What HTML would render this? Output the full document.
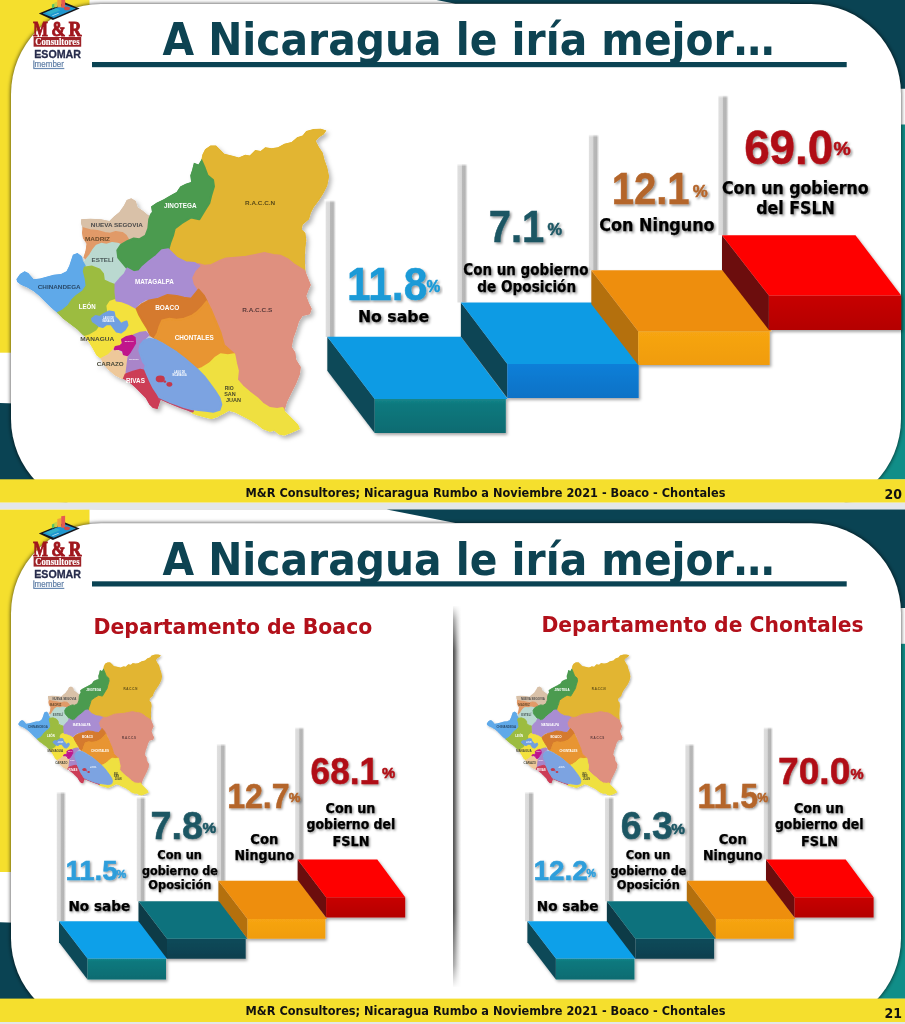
<!DOCTYPE html>
<html lang="es"><head><meta charset="utf-8"><title>A Nicaragua le iría mejor…</title>
<style>html,body{margin:0;padding:0;background:#fff}body{width:905px;height:1024px;overflow:hidden}svg{display:block}text{white-space:pre}</style></head><body>
<svg width="905" height="1024" viewBox="0 0 905 1024">
<defs>
<clipPath id="mapclip"><polygon points="16.38,279.36 20.03,273.9 24.59,271.16 28.23,272.98 33.7,279.36 40.08,278.45 46.46,276.63 53.76,274.81 61.05,273.9 66.52,271.16 69.25,265.69 71.08,260.22 72.9,254.75 77.46,252.93 81.1,255.66 82.93,257.49 83.84,256.57 85.66,250.19 86.57,243.81 82.93,238.34 82.02,232.87 82.56,228.31 81.1,223.76 81.1,219.2 90.22,218.65 101.16,219.2 109.36,221.02 113.92,216.46 119.39,211.91 123.95,205.52 126.69,200.06 131.24,198.23 135.8,200.97 137.62,207.35 143.09,210.99 148.56,215.55 149.23,214.18 151.96,211.99 151.05,206.52 156.52,202.87 163.81,199.23 170.19,195.58 176.57,191.93 180.22,186.46 185.69,183.73 191.16,181.91 190.25,175.52 192.07,170.06 193.9,162.76 198.45,164.59 201.19,160.03 202.35,154.64 205.08,149.17 210.55,145.52 216.02,145.52 220.58,150.08 224.23,153.73 231.52,155.55 238.81,157.38 245.19,154.64 249.75,155.55 255.22,150.08 260.69,150.99 265.25,147.35 271.63,148.26 278.01,147.35 284.39,143.7 291.69,141.88 297.15,137.32 302.62,135.5 306.27,130.94 313.56,129.12 320.86,128.75 326.33,130.57 323.59,134.59 319.03,137.32 315.75,140.97 319.03,147.35 322.68,152.82 324.5,160.11 327.24,167.4 329.06,176.52 327.24,185.64 323.59,192.93 319.03,200.22 313.56,207.51 310.83,212.98 309.01,219.36 302.62,224.83 301.71,229.39 305.36,233.04 306.27,240.33 305.36,247.62 304.81,258.56 305.36,271.33 310.83,285 309.01,288.65 306.27,295.94 309.01,303.23 311.74,308.7 309.92,314.17 302.62,315.99 298.98,321.46 296.24,330.58 293.51,337.87 291.69,346.99 295.33,352.46 296.24,359.75 300.8,367.04 299.89,374.34 296.24,383.45 291.69,392.57 287.13,401.69 284.39,410.8 291.69,418.09 298.07,424.48 299.89,429.03 291.69,432.68 284.39,435.41 278.92,434.5 274.36,430.86 269.81,431.77 262.51,429.03 257.04,424.48 249.75,419.92 242.46,416.27 235.17,412.62 228.78,410.8 224.23,413.54 216.93,417.18 211.46,419.01 204.17,417.18 196.88,415.36 192.32,413.54 187.62,410.8 180.33,408.25 173.04,405.33 166.66,402.6 160.64,399.86 159.36,403.51 157.54,408.98 152.98,408.07 149.34,404.42 145.69,398.04 140.22,392.57 134.75,387.1 129.28,382.54 123.81,378.9 121.99,378.9 114.7,375.25 108.31,369.78 102.85,363.4 101.02,358.84 96.46,355.19 91.91,346.99 87.35,339.7 85.16,336.6 82.93,334.97 77.46,329.5 70.17,324.03 62.87,318.56 57.4,313.09 51.02,307.62 44.64,301.24 39.17,295.77 33.7,291.22 27.32,287.57 20.94,284.83 17.29,282.1"/></clipPath>
<filter id="cardsh" x="-5%" y="-5%" width="110%" height="110%"><feGaussianBlur stdDeviation="2.1"/><feColorMatrix values="0 0 0 0 0  0 0 0 0 0  0 0 0 0 0  0 0 0 .8 0"/></filter>
<filter id="mapsh" x="-10%" y="-10%" width="125%" height="125%"><feDropShadow dx="2.5" dy="3" stdDeviation="2.2" flood-color="#000" flood-opacity=".28"/></filter>
<filter id="stepsh" x="-10%" y="-10%" width="125%" height="125%"><feDropShadow dx="1.5" dy="2" stdDeviation="1.5" flood-color="#000" flood-opacity=".35"/></filter>
<filter id="s1" x="-10%" y="-20%" width="125%" height="150%"><feDropShadow dx="1.6" dy="1.6" stdDeviation="1.1" flood-color="#000" flood-opacity=".42"/></filter>
<filter id="s2" x="-10%" y="-20%" width="125%" height="150%"><feDropShadow dx="1.2" dy="1.2" stdDeviation=".9" flood-color="#000" flood-opacity=".42"/></filter>
<linearGradient id="barg" x1="0" x2="1" y1="0" y2="0"><stop offset="0" stop-color="#f2f2f2"/><stop offset=".05" stop-color="#dfdfdf"/><stop offset=".40" stop-color="#d8d8d8"/><stop offset=".48" stop-color="#b8b8b8"/><stop offset=".74" stop-color="#b4b4b4"/><stop offset=".84" stop-color="#d4d4d4"/><stop offset="1" stop-color="#fff"/></linearGradient>
<linearGradient id="fadew" x1="0" x2="0" y1="0" y2="1"><stop offset="0" stop-color="#fff"/><stop offset=".3" stop-color="#fff" stop-opacity=".8"/><stop offset="1" stop-color="#fff" stop-opacity="0"/></linearGradient>
<linearGradient id="tealf" x1="0" x2="0" y1="0" y2="1"><stop offset="0" stop-color="#13868a"/><stop offset=".15" stop-color="#0f797e"/><stop offset="1" stop-color="#0b6b71"/></linearGradient>
<linearGradient id="bluef" x1="0" x2="0" y1="0" y2="1"><stop offset="0" stop-color="#0b7fd8"/><stop offset="1" stop-color="#0a72c6"/></linearGradient>
<linearGradient id="oraf" x1="0" x2="0" y1="0" y2="1"><stop offset="0" stop-color="#f7a512"/><stop offset="1" stop-color="#f09c0c"/></linearGradient>
<linearGradient id="redf" x1="0" x2="0" y1="0" y2="1"><stop offset="0" stop-color="#c80000"/><stop offset="1" stop-color="#b40000"/></linearGradient>
<linearGradient id="darkf" x1="0" x2="0" y1="0" y2="1"><stop offset="0" stop-color="#0d4a5a"/><stop offset="1" stop-color="#0a3f4e"/></linearGradient>
<linearGradient id="divh" x1="0" x2="1" y1="0" y2="0"><stop offset="0" stop-color="#4e4e4e"/><stop offset=".22" stop-color="#6e6e6e"/><stop offset=".5" stop-color="#b4b4b4"/><stop offset=".8" stop-color="#ececec"/><stop offset="1" stop-color="#fff"/></linearGradient>
<linearGradient id="divv" x1="0" x2="0" y1="0" y2="1"><stop offset="0" stop-color="#fff"/><stop offset=".04" stop-color="#fff" stop-opacity=".5"/><stop offset=".12" stop-color="#fff" stop-opacity="0"/><stop offset=".8" stop-color="#fff" stop-opacity="0"/><stop offset=".94" stop-color="#fff" stop-opacity=".5"/><stop offset="1" stop-color="#fff"/></linearGradient>
</defs>
<rect width="905" height="1024" fill="#fff"/>
<g>
<rect x="0" y="0" width="89.5" height="352.7" fill="#f5df2d"/>
<path d="M0 403 Q30 403.6 62 407.5 L62 480 L0 480Z" fill="#0a4353"/>
<polygon points="386.7,-9.8 905,-9.8 905,88.8 790,88.8 790,3.7 455.4,3.7" fill="#0a4353"/>
<rect x="780" y="124.5" width="125" height="355" fill="#108e88"/>
<rect x="11" y="4" width="890" height="505" rx="90" ry="90" fill="#fff" filter="url(#cardsh)"/>
<rect x="11" y="4" width="890" height="505" rx="90" ry="90" fill="#fff"/>
<rect x="0" y="479.3" width="905" height="23.4" fill="#f5df2d"/>
<rect x="0" y="502.7" width="905" height="7" fill="#e3e6e9"/>
<rect x="92" y="62" width="754.7" height="5.2" fill="#0a4353"/>
</g>
<g>
<rect x="0" y="509.6" width="905" height="39.7" fill="#fff"/>
<rect x="0" y="509.6" width="89.5" height="362.4" fill="#f5df2d"/>
<path d="M0 922.3 Q30 922.9 62 926.8 L62 999.3 L0 999.3Z" fill="#0a4353"/>
<polygon points="386.7,509.5 905,509.5 905,608.1 790,608.1 790,523 455.4,523" fill="#0a4353"/>
<rect x="780" y="643.8" width="125" height="355" fill="#108e88"/>
<rect x="11" y="523.3" width="890" height="505" rx="90" ry="90" fill="#fff" filter="url(#cardsh)"/>
<rect x="11" y="523.3" width="890" height="505" rx="90" ry="90" fill="#fff"/>
<rect x="0" y="998.6" width="905" height="23.4" fill="#f5df2d"/>
<rect x="0" y="1022" width="905" height="7" fill="#e3e6e9"/>
<rect x="92" y="581.3" width="754.7" height="5.2" fill="#0a4353"/>
</g>
<g transform="translate(0,0)">
<polygon points="38.8,13.6 65.1,2.6 79.7,8.5 52.9,20" fill="#16161c"/>
<polygon points="42.6,13.4 64.8,4.4 76,8.6 53.8,17.9" fill="#1f97cf"/>
<polygon points="45.5,12.6 56,8.3 60.5,10.2 50,14.6" fill="#35b6c8" opacity=".8"/>
<polygon points="51.9,8.5 51.9,4.6 54.6,3.4 54.6,7.6" fill="#58c06a"/>
<polygon points="54.6,7.6 54.6,2.6 57.3,1.6 57.3,7" fill="#c8d048"/>
<polygon points="57.3,7.2 57.3,-0.8 61.2,-2 61.2,7.2" fill="#f0a23c"/>
<polygon points="61.2,7.8 61.2,-3.6 65.1,-4.2 65.1,7.8" fill="#e65a50"/>
<ellipse cx="67" cy="8.4" rx="3" ry="1.9" fill="#d04848"/>
<polygon points="52,15.6 58.4,13 59,13.5 52.6,16.1" fill="#bfe6f4"/>
<text class="t" x="33.2" y="36" textLength="14.6" font-family='"Liberation Serif",serif' font-weight="bold" font-size="21" fill="#a0161d" stroke="#a0161d" stroke-width="1" lengthAdjust="spacingAndGlyphs">M</text>
<text class="t" x="51.4" y="36" textLength="14" font-family='"Liberation Serif",serif' font-weight="bold" font-size="21" fill="#a0161d" stroke="#a0161d" stroke-width="1" lengthAdjust="spacingAndGlyphs">&amp;</text>
<text class="t" x="68.8" y="36" textLength="12.6" font-family='"Liberation Serif",serif' font-weight="bold" font-size="21" fill="#a0161d" stroke="#a0161d" stroke-width="1" lengthAdjust="spacingAndGlyphs">R</text>
<rect x="33.6" y="37" width="47.6" height="9.7" fill="#9e2227"/>
<text class="t" x="57.4" y="44.8" text-anchor="middle" textLength="44.4" lengthAdjust="spacingAndGlyphs" font-family='"Liberation Serif",serif' font-weight="bold" font-size="9.8" fill="#fff" stroke="#fff" stroke-width=".15">Consultores</text>
<text class="t" x="57.6" y="58" text-anchor="middle" textLength="46.8" lengthAdjust="spacingAndGlyphs" font-family='"Liberation Sans",sans-serif' font-weight="bold" font-size="11.2" fill="#272c4c" stroke="#272c4c" stroke-width=".3">ESOMAR</text>
<text class="t" x="34.6" y="66.8" textLength="29.4" lengthAdjust="spacingAndGlyphs" font-family='"Liberation Sans",sans-serif' font-size="9.4" fill="#5b7ba4" stroke="#5b7ba4" stroke-width=".2">member</text>
<rect x="33.3" y="60.4" width="1.1" height="7.8" fill="#5b7ba4"/>
<rect x="33.3" y="67.9" width="31" height="1.2" fill="#6b8bb4"/>
</g>
<g transform="translate(0,519.9)">
<polygon points="38.8,13.6 65.1,2.6 79.7,8.5 52.9,20" fill="#16161c"/>
<polygon points="42.6,13.4 64.8,4.4 76,8.6 53.8,17.9" fill="#1f97cf"/>
<polygon points="45.5,12.6 56,8.3 60.5,10.2 50,14.6" fill="#35b6c8" opacity=".8"/>
<polygon points="51.9,8.5 51.9,4.6 54.6,3.4 54.6,7.6" fill="#58c06a"/>
<polygon points="54.6,7.6 54.6,2.6 57.3,1.6 57.3,7" fill="#c8d048"/>
<polygon points="57.3,7.2 57.3,-0.8 61.2,-2 61.2,7.2" fill="#f0a23c"/>
<polygon points="61.2,7.8 61.2,-3.6 65.1,-4.2 65.1,7.8" fill="#e65a50"/>
<ellipse cx="67" cy="8.4" rx="3" ry="1.9" fill="#d04848"/>
<polygon points="52,15.6 58.4,13 59,13.5 52.6,16.1" fill="#bfe6f4"/>
<text class="t" x="33.2" y="36" textLength="14.6" font-family='"Liberation Serif",serif' font-weight="bold" font-size="21" fill="#a0161d" stroke="#a0161d" stroke-width="1" lengthAdjust="spacingAndGlyphs">M</text>
<text class="t" x="51.4" y="36" textLength="14" font-family='"Liberation Serif",serif' font-weight="bold" font-size="21" fill="#a0161d" stroke="#a0161d" stroke-width="1" lengthAdjust="spacingAndGlyphs">&amp;</text>
<text class="t" x="68.8" y="36" textLength="12.6" font-family='"Liberation Serif",serif' font-weight="bold" font-size="21" fill="#a0161d" stroke="#a0161d" stroke-width="1" lengthAdjust="spacingAndGlyphs">R</text>
<rect x="33.6" y="37" width="47.6" height="9.7" fill="#9e2227"/>
<text class="t" x="57.4" y="44.8" text-anchor="middle" textLength="44.4" lengthAdjust="spacingAndGlyphs" font-family='"Liberation Serif",serif' font-weight="bold" font-size="9.8" fill="#fff" stroke="#fff" stroke-width=".15">Consultores</text>
<text class="t" x="57.6" y="58" text-anchor="middle" textLength="46.8" lengthAdjust="spacingAndGlyphs" font-family='"Liberation Sans",sans-serif' font-weight="bold" font-size="11.2" fill="#272c4c" stroke="#272c4c" stroke-width=".3">ESOMAR</text>
<text class="t" x="34.6" y="66.8" textLength="29.4" lengthAdjust="spacingAndGlyphs" font-family='"Liberation Sans",sans-serif' font-size="9.4" fill="#5b7ba4" stroke="#5b7ba4" stroke-width=".2">member</text>
<rect x="33.3" y="60.4" width="1.1" height="7.8" fill="#5b7ba4"/>
<rect x="33.3" y="67.9" width="31" height="1.2" fill="#6b8bb4"/>
</g>
<g transform="translate(0,0) scale(1)" filter="url(#mapsh)">
<g stroke-linejoin="round" stroke-width="2" clip-path="url(#mapclip)">
<polygon points="168.37,249.36 170.19,242.98 172.93,235.69 174.75,228.4 182.04,222.93 191.16,217.46 199.36,219.28 204.83,210.17 209.39,202.87 211.22,195.58 213.95,186.46 213.04,180.08 207.57,175.52 204.83,168.23 202.1,160.03 202.35,154.64 205.08,149.17 210.55,145.52 216.02,145.52 220.58,150.08 224.23,153.73 231.52,155.55 238.81,157.38 245.19,154.64 249.75,155.55 255.22,150.08 260.69,150.99 265.25,147.35 271.63,148.26 278.01,147.35 284.39,143.7 291.69,141.88 297.15,137.32 302.62,135.5 306.27,130.94 313.56,129.12 320.86,128.75 326.33,130.57 323.59,134.59 319.03,137.32 315.75,140.97 319.03,147.35 322.68,152.82 324.5,160.11 327.24,167.4 329.06,176.52 327.24,185.64 323.59,192.93 319.03,200.22 313.56,207.51 310.83,212.98 309.01,219.36 302.62,224.83 301.71,229.39 305.36,233.04 306.27,240.33 305.36,247.62 304.81,258.56 305.36,271.33 300.8,276.8 198.7,276.8 194.81,270.33 185.69,266.69 176.57,261.22" fill="#e2b530" stroke="#e2b530"/>
<polygon points="199.36,265.77 198.7,264.03 205.08,265.86 211.46,264.94 218.76,261.3 226.05,258.56 235.17,257.65 246.1,256.74 255.22,254.92 264.34,253.09 273.45,254.92 280.75,255.83 288.04,259.48 293.51,264.03 300.8,268.59 305.36,271.33 310.83,285 309.01,288.65 306.27,295.94 309.01,303.23 311.74,308.7 309.92,314.17 302.62,315.99 298.98,321.46 296.24,330.58 293.51,337.87 291.69,346.99 295.33,352.46 296.24,359.75 300.8,367.04 299.89,374.34 296.24,383.45 291.69,392.57 287.13,401.69 284.39,410.8 282.57,408.07 277.1,408.98 269.81,408.07 262.51,403.51 257.04,398.04 249.75,392.57 242.46,386.19 236.99,379.81 237.9,370.69 236.08,363.4 234.25,354.28 231.52,351.55 224.23,345.17 220.58,332.4 216.02,319.64 211.46,306.88 205.08,297.76 196.88,289.56 196.63,290.39 192.98,284.92 191.16,277.62 194.81,270.33" fill="#df907f" stroke="#df907f"/>
<polygon points="81.1,219.2 90.22,218.65 101.16,219.2 109.36,221.02 113.92,216.46 119.39,211.91 123.95,205.52 126.69,200.06 131.24,198.23 135.8,200.97 137.62,207.35 143.09,210.99 148.56,215.55 149.48,223.76 146.74,231.05 145.83,236.52 141.27,239.25 133.98,239.25 128.51,240.17 125.77,235.61 122.13,232.87 115.75,231.96 110.28,233.78 104.81,232.87 97.51,231.05 90.22,230.14 82.93,228.31 81.1,223.76" fill="#d9c1a8" stroke="#d9c1a8"/>
<polygon points="82.93,228.31 90.22,230.14 97.51,231.05 104.81,232.87 110.28,233.78 115.75,231.96 122.13,232.87 125.77,235.61 128.51,240.17 123.04,242.9 117.57,243.81 112.1,242.9 106.63,244.72 101.16,243.81 96.6,245.64 92.96,250.19 90.22,254.75 86.57,259.31 83.84,256.57 85.66,250.19 86.57,243.81 82.93,238.34 82.02,232.87" fill="#e19a68" stroke="#e19a68"/>
<polygon points="96.6,245.64 101.16,243.81 106.63,244.72 112.1,242.9 117.57,243.81 124.86,246.55 122.13,251.1 121.22,258.4 123.95,265.69 128.51,271.16 129.42,275.72 121.22,279.36 115.75,283.92 109.36,283.01 103.9,280.28 102.98,273.9 99.34,269.34 92.96,266.6 86.57,265.69 83.84,263.87 86.57,259.31 90.22,254.75 92.96,250.19" fill="#bad9d0" stroke="#bad9d0"/>
<polygon points="193.9,162.76 198.45,164.59 201.19,160.03 204.83,168.23 207.57,175.52 213.04,180.08 213.95,186.46 211.22,195.58 209.39,202.87 204.83,210.17 199.36,219.28 191.16,217.46 182.04,222.93 174.75,228.4 172.93,235.69 170.19,242.98 168.37,249.36 161.99,250.28 156.52,255.75 149.23,261.22 142.85,266.69 139.2,271.24 133.73,272.15 127.35,268.51 122.79,263.04 118.23,257.57 117.32,250.28 120.97,244.81 127.35,241.16 133.73,238.43 139.2,239.34 145.58,235.69 148.31,228.4 149.23,219.28 151.96,211.99 151.05,206.52 156.52,202.87 163.81,199.23 170.19,195.58 176.57,191.93 180.22,186.46 185.69,183.73 191.16,181.91 190.25,175.52 192.07,170.06" fill="#4b9b50" stroke="#4b9b50"/>
<polygon points="16.38,279.36 20.03,273.9 24.59,271.16 28.23,272.98 33.7,279.36 40.08,278.45 46.46,276.63 53.76,274.81 61.05,273.9 66.52,271.16 69.25,265.69 71.08,260.22 72.9,254.75 77.46,252.93 81.1,255.66 82.02,261.13 84.75,265.69 83.84,271.16 85.66,278.45 86.57,285.75 82.93,291.22 76.55,295.77 71.99,300.33 68.34,305.8 62.87,310.36 57.4,313.09 51.02,307.62 44.64,301.24 39.17,295.77 33.7,291.22 27.32,287.57 20.94,284.83 17.29,282.1" fill="#5fa9e9" stroke="#5fa9e9"/>
<polygon points="84.75,267.51 92.04,266.6 99.34,269.34 102.98,273.9 103.9,280.28 109.36,283.01 114.83,284.83 114.83,300.33 110.28,303.07 108.45,307.62 110.28,314.92 101.16,318.56 97.51,325.86 98.43,330.41 95.69,334.97 85.66,336.8 82.93,334.97 77.46,329.5 70.17,324.03 62.87,318.56 57.4,313.09 62.87,310.36 68.34,305.8 71.99,300.33 76.55,295.77 82.93,291.22 86.57,285.75 85.66,278.45 83.84,271.16" fill="#9cbc40" stroke="#9cbc40"/>
<polygon points="114.7,300.31 121.99,301.77 129.28,305.06 136.57,308.7 139.31,315.08 142.96,321.46 147.51,326.93 144.78,331.49 138.4,333.86 132.93,335.14 126.55,336.96 121.99,339.7 119.25,345.17 114.7,348.81 108.31,355.19 101.02,358.84 96.46,355.19 91.91,346.99 87.35,339.7 85.16,336.6 90.08,335.14 96.46,331.49 99.2,327.85 105.58,321.46 108.31,312.35 107.4,305.97 110.14,301.77" fill="#f3e13c" stroke="#f3e13c"/>
<polygon points="168.37,249.36 176.57,257.57 185.69,262.13 194.81,263.04 199.36,265.77 194.81,270.33 191.16,277.62 192.98,284.92 196.63,290.39 192.07,295.86 189.34,301.33 182.04,297.68 174.75,294.03 167.46,294.94 160.17,297.68 152.87,298.59 145.58,299.5 139.2,303.15 135.55,307.71 129.17,304.06 121.88,301.33 116.41,300.41 115.5,292.21 115.5,284.01 120.06,278.54 124.61,273.98 127.35,268.51 133.73,272.15 139.2,271.24 142.85,266.69 149.23,261.22 156.52,255.75 161.99,250.28" fill="#a98dd2" stroke="#a98dd2"/>
<polygon points="136.57,308.7 142.04,304.14 149.34,300.5 158.45,298.67 167.57,295.03 176.69,295.94 183.98,297.76 191.27,298.67 194.92,294.12 198.56,289.56 204.03,295.94 206.77,301.41 202.21,306.88 196.74,312.35 191.27,315.99 183.98,318.73 176.69,319.64 169.39,318.73 162.1,320.55 159.36,326.93 157.54,333.31 154.81,337.87 150.25,335.14 147.51,328.76 142.96,321.46 139.31,315.08" fill="#d57a2d" stroke="#d57a2d"/>
<polygon points="206.77,301.41 211.33,310.52 215.88,321.46 220.44,332.4 224.09,345.17 234.25,354.28 227.87,355.19 220.58,354.28 215.11,357.93 209.64,363.4 202.35,367.96 197.79,369.78 191.27,363.4 183.98,357.02 176.69,350.64 169.39,346.08 162.1,341.52 154.81,337.87 157.54,333.31 159.36,326.93 162.1,320.55 169.39,318.73 176.69,319.64 183.98,318.73 191.27,315.99 196.74,312.35 202.21,306.88" fill="#e89530" stroke="#e89530"/>
<polygon points="234.25,354.28 236.08,363.4 237.9,370.69 236.99,379.81 242.46,386.19 249.75,392.57 257.04,398.04 262.51,403.51 269.81,408.07 277.1,408.98 282.57,408.07 284.39,410.8 291.69,418.09 298.07,424.48 299.89,429.03 291.69,432.68 284.39,435.41 278.92,434.5 274.36,430.86 269.81,431.77 262.51,429.03 257.04,424.48 249.75,419.92 242.46,416.27 235.17,412.62 228.78,410.8 224.23,413.54 216.93,417.18 211.46,419.01 204.17,417.18 196.88,415.36 192.32,413.54 192.32,410.8 198.7,411.71 209.64,412.62 216.93,410.8 219.67,407.15 218.76,399.86 216.02,392.57 211.46,386.19 206.91,379.81 202.35,374.34 197.79,369.78 202.35,367.96 209.64,363.4 215.11,357.93 220.58,354.28 227.87,355.19" fill="#efe03f" stroke="#efe03f"/>
<polygon points="114.7,348.81 122.9,355.19 128.37,357.93 127.46,365.22 125.64,371.6 123.81,376.16 121.99,378.9 114.7,375.25 108.31,369.78 102.85,363.4 101.02,358.84 108.31,355.19" fill="#eec89a" stroke="#eec89a"/>
<polygon points="133.84,335.14 140.22,332.77 145.69,332.04 148.43,335.14 145.69,337.87 142.04,341.52 140.22,345.17 139.31,350.64 141.13,356.1 142.96,361.57 145.69,365.22 144.78,368.87 140.22,369.78 132.93,371.6 126.55,372.51 127.46,365.22 128.37,357.93 130.19,354.28 132.02,348.81 134.75,345.17 135.66,339.7" fill="#a985c9" stroke="#a985c9"/>
<polygon points="125.64,374.34 132.93,371.6 140.22,369.78 144.78,370.69 147.51,376.16 150.25,382.54 152.98,388.01 156.63,393.48 159.91,398.04 159.36,403.51 157.54,408.98 152.98,408.07 149.34,404.42 145.69,398.04 140.22,392.57 134.75,387.1 129.28,382.54 123.81,378.9" fill="#cc3c57" stroke="#cc3c57"/>
<polygon points="159.36,396.58 169.39,400.96 183.98,406.79 193.09,409.71 192.73,411.53 183.98,408.98 169.39,403.51 159.36,399.5" fill="#c24a68" stroke="#c24a68"/>
<polygon points="140.22,345.17 143.87,340.61 149.34,338.78 154.81,339.7 162.1,343.34 169.39,347.9 176.69,352.46 183.98,357.93 191.27,364.31 197.65,369.78 204.03,376.16 209.5,383.45 214.97,390.75 219.53,398.04 221.35,404.42 219.53,409.89 213.15,411.71 205.86,410.8 198.56,409.89 191.27,408.98 183.98,407.15 176.69,404.42 169.39,401.69 163.01,398.95 159.36,397.13 156.63,392.57 152.98,387.1 150.25,381.63 147.51,375.25 144.78,368.87 145.69,365.22 142.96,361.57 141.13,356.1 139.31,350.64" fill="#7ba3e1" stroke="#7ba3e1"/>
<polygon points="121.99,339.7 126.55,336.96 132.02,335.69 134.75,337.87 135.12,343.34 132.93,346.99 130.19,351.55 127.46,355.19 123.81,354.28 122.9,350.64 118.34,348.81 114.7,349.18 115.61,346.99 120.17,346.08 122.9,343.34" fill="#c0178b" stroke="#c0178b"/>
<polygon points="91.91,318.73 95.55,315.99 100.11,316.91 103.76,314.17 109.23,311.44 113.78,312.35 114.7,316.91 118.34,320.55 121.08,324.2 123.81,322.38 126.55,321.46 127.46,325.11 124.72,329.67 121.08,332.4 116.52,331.49 113.78,327.85 111.05,324.2 106.49,324.2 102.85,326.93 99.2,326.02 95.55,323.29 92.82,321.46" fill="#709fe1" stroke="#709fe1"/>
<ellipse cx="160.28" cy="378.9" rx="4.56" ry="3.46" fill="#c4394b"/>
<ellipse cx="169.39" cy="384.36" rx="2.92" ry="2.37" fill="#c4394b"/>
<ellipse cx="164.83" cy="381.63" rx="1.46" ry="1.09" fill="#c4394b"/>
</g>
<g font-family='"Liberation Sans",sans-serif' font-weight="bold" text-anchor="middle">
<text x="180.29" y="207.51" font-size="6.6" fill="#fff" textLength="32.5" lengthAdjust="spacingAndGlyphs">JINOTEGA</text>
<text x="260.14" y="205.33" font-size="5.8" fill="#5a4a1a" textLength="30" lengthAdjust="spacingAndGlyphs">R.A.C.C.N</text>
<text x="116.84" y="227.2" font-size="6.2" fill="#4a4a4a" textLength="52" lengthAdjust="spacingAndGlyphs">NUEVA SEGOVIA</text>
<text x="97.51" y="241.06" font-size="6.2" fill="#6a4a2a" textLength="25" lengthAdjust="spacingAndGlyphs">MADRIZ</text>
<text x="102.62" y="262.21" font-size="6.2" fill="#4a5a5a" textLength="22" lengthAdjust="spacingAndGlyphs">ESTELÍ</text>
<text x="59.23" y="288.83" font-size="6.2" fill="#2a4a6a" textLength="43" lengthAdjust="spacingAndGlyphs">CHINANDEGA</text>
<text x="154.4" y="284.45" font-size="6.4" fill="#fff" textLength="39" lengthAdjust="spacingAndGlyphs">MATAGALPA</text>
<text x="87.3" y="308.88" font-size="6.4" fill="#fff" textLength="17" lengthAdjust="spacingAndGlyphs">LEÓN</text>
<text x="167.16" y="310.34" font-size="6.4" fill="#fff" textLength="24" lengthAdjust="spacingAndGlyphs">BOACO</text>
<text x="257.23" y="312.17" font-size="5.8" fill="#5a3a3a" textLength="30" lengthAdjust="spacingAndGlyphs">R.A.C.C.S</text>
<text x="97.15" y="340.61" font-size="6.2" fill="#4a4a3a" textLength="34" lengthAdjust="spacingAndGlyphs">MANAGUA</text>
<text x="194.14" y="340.24" font-size="6.4" fill="#fff" textLength="39" lengthAdjust="spacingAndGlyphs">CHONTALES</text>
<text x="110.28" y="366.13" font-size="6.2" fill="#4a4a3a" textLength="27" lengthAdjust="spacingAndGlyphs">CARAZO</text>
<text x="135.44" y="382.54" font-size="6.4" fill="#fff" textLength="19" lengthAdjust="spacingAndGlyphs">RIVAS</text>
<text x="229.15" y="390.2" font-size="5.6" fill="#4a4a2a" textLength="9" lengthAdjust="spacingAndGlyphs">RIO</text>
<text x="229.88" y="396.03" font-size="5.6" fill="#4a4a2a" textLength="11.5" lengthAdjust="spacingAndGlyphs">SAN</text>
<text x="233.52" y="402.23" font-size="5.6" fill="#4a4a2a" textLength="15" lengthAdjust="spacingAndGlyphs">JUAN</text>
<text x="108.45" y="319.09" font-size="2.6" fill="#fff" textLength="11" lengthAdjust="spacingAndGlyphs">LAGO DE</text>
<text x="108.45" y="322.01" font-size="2.6" fill="#fff" textLength="12" lengthAdjust="spacingAndGlyphs">MANAGUA</text>
<text x="179.56" y="373.43" font-size="2.6" fill="#fff" textLength="11" lengthAdjust="spacingAndGlyphs">LAGO DE</text>
<text x="179.56" y="376.34" font-size="2.6" fill="#fff" textLength="14" lengthAdjust="spacingAndGlyphs">NICARAGUA</text>
<text x="129.24" y="341.7" font-size="2.4" fill="#fff" textLength="9" lengthAdjust="spacingAndGlyphs">MASAYA</text>
<text x="133.98" y="359.93" font-size="2.4" fill="#fff" textLength="10" lengthAdjust="spacingAndGlyphs">GRANADA</text>
</g></g>
<rect x="325.4" y="200.4" width="10.6" height="136.6" fill="url(#barg)" mask="none"/>
<rect x="324.4" y="199.4" width="12.6" height="3.5" fill="url(#fadew)"/>
<rect x="457.2" y="164" width="10.6" height="138.5" fill="url(#barg)" mask="none"/>
<rect x="456.2" y="163" width="12.6" height="3.5" fill="url(#fadew)"/>
<rect x="588.7" y="134.7" width="10.6" height="135.6" fill="url(#barg)" mask="none"/>
<rect x="587.7" y="133.7" width="12.6" height="3.5" fill="url(#fadew)"/>
<rect x="718.2" y="95.5" width="10.6" height="139.7" fill="url(#barg)" mask="none"/>
<rect x="717.2" y="94.5" width="12.6" height="3.5" fill="url(#fadew)"/>
<g filter="url(#stepsh)">
<polygon points="327.3,336.8 374.7,399.1 374.7,433 327.3,370.7" fill="#0c4959"/>
<polygon points="374.7,399.1 505.8,399.1 505.8,433 374.7,433" fill="url(#tealf)"/>
<polygon points="327.3,336.8 461,336.8 507.6,399.1 374.7,399.1" fill="#0e9be4"/>
<polygon points="460.9,302.5 507.3,364 507.3,398 460.9,336.5" fill="#0c4555"/>
<polygon points="507.3,364 638.7,364 638.7,398 507.3,398" fill="url(#bluef)"/>
<polygon points="460.9,302.5 593.8,302.5 640.5,364 507.3,364" fill="#0e9be4"/>
<polygon points="591.3,270.3 638.2,331.3 638.2,365 591.3,304" fill="#b47010"/>
<polygon points="638.2,331.3 769.7,331.3 769.7,365 638.2,365" fill="url(#oraf)"/>
<polygon points="591.3,270.3 723.8,270.3 771.5,331.3 638.2,331.3" fill="#ee8e0a"/>
<polygon points="722,235.2 768.9,295.5 768.9,330 722,269.7" fill="#6c1010"/>
<polygon points="768.9,295.5 901.2,295.5 901.2,330 768.9,330" fill="url(#redf)"/>
<polygon points="722,235.2 855.5,235.2 901.2,295.5 768.9,295.5" fill="#fe0000"/>
</g>
<g transform="translate(10.7,595.2) scale(0.46)" filter="url(#mapsh)">
<g stroke-linejoin="round" stroke-width="2" clip-path="url(#mapclip)">
<polygon points="168.37,249.36 170.19,242.98 172.93,235.69 174.75,228.4 182.04,222.93 191.16,217.46 199.36,219.28 204.83,210.17 209.39,202.87 211.22,195.58 213.95,186.46 213.04,180.08 207.57,175.52 204.83,168.23 202.1,160.03 202.35,154.64 205.08,149.17 210.55,145.52 216.02,145.52 220.58,150.08 224.23,153.73 231.52,155.55 238.81,157.38 245.19,154.64 249.75,155.55 255.22,150.08 260.69,150.99 265.25,147.35 271.63,148.26 278.01,147.35 284.39,143.7 291.69,141.88 297.15,137.32 302.62,135.5 306.27,130.94 313.56,129.12 320.86,128.75 326.33,130.57 323.59,134.59 319.03,137.32 315.75,140.97 319.03,147.35 322.68,152.82 324.5,160.11 327.24,167.4 329.06,176.52 327.24,185.64 323.59,192.93 319.03,200.22 313.56,207.51 310.83,212.98 309.01,219.36 302.62,224.83 301.71,229.39 305.36,233.04 306.27,240.33 305.36,247.62 304.81,258.56 305.36,271.33 300.8,276.8 198.7,276.8 194.81,270.33 185.69,266.69 176.57,261.22" fill="#e2b530" stroke="#e2b530"/>
<polygon points="199.36,265.77 198.7,264.03 205.08,265.86 211.46,264.94 218.76,261.3 226.05,258.56 235.17,257.65 246.1,256.74 255.22,254.92 264.34,253.09 273.45,254.92 280.75,255.83 288.04,259.48 293.51,264.03 300.8,268.59 305.36,271.33 310.83,285 309.01,288.65 306.27,295.94 309.01,303.23 311.74,308.7 309.92,314.17 302.62,315.99 298.98,321.46 296.24,330.58 293.51,337.87 291.69,346.99 295.33,352.46 296.24,359.75 300.8,367.04 299.89,374.34 296.24,383.45 291.69,392.57 287.13,401.69 284.39,410.8 282.57,408.07 277.1,408.98 269.81,408.07 262.51,403.51 257.04,398.04 249.75,392.57 242.46,386.19 236.99,379.81 237.9,370.69 236.08,363.4 234.25,354.28 231.52,351.55 224.23,345.17 220.58,332.4 216.02,319.64 211.46,306.88 205.08,297.76 196.88,289.56 196.63,290.39 192.98,284.92 191.16,277.62 194.81,270.33" fill="#df907f" stroke="#df907f"/>
<polygon points="81.1,219.2 90.22,218.65 101.16,219.2 109.36,221.02 113.92,216.46 119.39,211.91 123.95,205.52 126.69,200.06 131.24,198.23 135.8,200.97 137.62,207.35 143.09,210.99 148.56,215.55 149.48,223.76 146.74,231.05 145.83,236.52 141.27,239.25 133.98,239.25 128.51,240.17 125.77,235.61 122.13,232.87 115.75,231.96 110.28,233.78 104.81,232.87 97.51,231.05 90.22,230.14 82.93,228.31 81.1,223.76" fill="#d9c1a8" stroke="#d9c1a8"/>
<polygon points="82.93,228.31 90.22,230.14 97.51,231.05 104.81,232.87 110.28,233.78 115.75,231.96 122.13,232.87 125.77,235.61 128.51,240.17 123.04,242.9 117.57,243.81 112.1,242.9 106.63,244.72 101.16,243.81 96.6,245.64 92.96,250.19 90.22,254.75 86.57,259.31 83.84,256.57 85.66,250.19 86.57,243.81 82.93,238.34 82.02,232.87" fill="#e19a68" stroke="#e19a68"/>
<polygon points="96.6,245.64 101.16,243.81 106.63,244.72 112.1,242.9 117.57,243.81 124.86,246.55 122.13,251.1 121.22,258.4 123.95,265.69 128.51,271.16 129.42,275.72 121.22,279.36 115.75,283.92 109.36,283.01 103.9,280.28 102.98,273.9 99.34,269.34 92.96,266.6 86.57,265.69 83.84,263.87 86.57,259.31 90.22,254.75 92.96,250.19" fill="#bad9d0" stroke="#bad9d0"/>
<polygon points="193.9,162.76 198.45,164.59 201.19,160.03 204.83,168.23 207.57,175.52 213.04,180.08 213.95,186.46 211.22,195.58 209.39,202.87 204.83,210.17 199.36,219.28 191.16,217.46 182.04,222.93 174.75,228.4 172.93,235.69 170.19,242.98 168.37,249.36 161.99,250.28 156.52,255.75 149.23,261.22 142.85,266.69 139.2,271.24 133.73,272.15 127.35,268.51 122.79,263.04 118.23,257.57 117.32,250.28 120.97,244.81 127.35,241.16 133.73,238.43 139.2,239.34 145.58,235.69 148.31,228.4 149.23,219.28 151.96,211.99 151.05,206.52 156.52,202.87 163.81,199.23 170.19,195.58 176.57,191.93 180.22,186.46 185.69,183.73 191.16,181.91 190.25,175.52 192.07,170.06" fill="#4b9b50" stroke="#4b9b50"/>
<polygon points="16.38,279.36 20.03,273.9 24.59,271.16 28.23,272.98 33.7,279.36 40.08,278.45 46.46,276.63 53.76,274.81 61.05,273.9 66.52,271.16 69.25,265.69 71.08,260.22 72.9,254.75 77.46,252.93 81.1,255.66 82.02,261.13 84.75,265.69 83.84,271.16 85.66,278.45 86.57,285.75 82.93,291.22 76.55,295.77 71.99,300.33 68.34,305.8 62.87,310.36 57.4,313.09 51.02,307.62 44.64,301.24 39.17,295.77 33.7,291.22 27.32,287.57 20.94,284.83 17.29,282.1" fill="#5fa9e9" stroke="#5fa9e9"/>
<polygon points="84.75,267.51 92.04,266.6 99.34,269.34 102.98,273.9 103.9,280.28 109.36,283.01 114.83,284.83 114.83,300.33 110.28,303.07 108.45,307.62 110.28,314.92 101.16,318.56 97.51,325.86 98.43,330.41 95.69,334.97 85.66,336.8 82.93,334.97 77.46,329.5 70.17,324.03 62.87,318.56 57.4,313.09 62.87,310.36 68.34,305.8 71.99,300.33 76.55,295.77 82.93,291.22 86.57,285.75 85.66,278.45 83.84,271.16" fill="#9cbc40" stroke="#9cbc40"/>
<polygon points="114.7,300.31 121.99,301.77 129.28,305.06 136.57,308.7 139.31,315.08 142.96,321.46 147.51,326.93 144.78,331.49 138.4,333.86 132.93,335.14 126.55,336.96 121.99,339.7 119.25,345.17 114.7,348.81 108.31,355.19 101.02,358.84 96.46,355.19 91.91,346.99 87.35,339.7 85.16,336.6 90.08,335.14 96.46,331.49 99.2,327.85 105.58,321.46 108.31,312.35 107.4,305.97 110.14,301.77" fill="#f3e13c" stroke="#f3e13c"/>
<polygon points="168.37,249.36 176.57,257.57 185.69,262.13 194.81,263.04 199.36,265.77 194.81,270.33 191.16,277.62 192.98,284.92 196.63,290.39 192.07,295.86 189.34,301.33 182.04,297.68 174.75,294.03 167.46,294.94 160.17,297.68 152.87,298.59 145.58,299.5 139.2,303.15 135.55,307.71 129.17,304.06 121.88,301.33 116.41,300.41 115.5,292.21 115.5,284.01 120.06,278.54 124.61,273.98 127.35,268.51 133.73,272.15 139.2,271.24 142.85,266.69 149.23,261.22 156.52,255.75 161.99,250.28" fill="#a98dd2" stroke="#a98dd2"/>
<polygon points="136.57,308.7 142.04,304.14 149.34,300.5 158.45,298.67 167.57,295.03 176.69,295.94 183.98,297.76 191.27,298.67 194.92,294.12 198.56,289.56 204.03,295.94 206.77,301.41 202.21,306.88 196.74,312.35 191.27,315.99 183.98,318.73 176.69,319.64 169.39,318.73 162.1,320.55 159.36,326.93 157.54,333.31 154.81,337.87 150.25,335.14 147.51,328.76 142.96,321.46 139.31,315.08" fill="#d57a2d" stroke="#d57a2d"/>
<polygon points="206.77,301.41 211.33,310.52 215.88,321.46 220.44,332.4 224.09,345.17 234.25,354.28 227.87,355.19 220.58,354.28 215.11,357.93 209.64,363.4 202.35,367.96 197.79,369.78 191.27,363.4 183.98,357.02 176.69,350.64 169.39,346.08 162.1,341.52 154.81,337.87 157.54,333.31 159.36,326.93 162.1,320.55 169.39,318.73 176.69,319.64 183.98,318.73 191.27,315.99 196.74,312.35 202.21,306.88" fill="#e89530" stroke="#e89530"/>
<polygon points="234.25,354.28 236.08,363.4 237.9,370.69 236.99,379.81 242.46,386.19 249.75,392.57 257.04,398.04 262.51,403.51 269.81,408.07 277.1,408.98 282.57,408.07 284.39,410.8 291.69,418.09 298.07,424.48 299.89,429.03 291.69,432.68 284.39,435.41 278.92,434.5 274.36,430.86 269.81,431.77 262.51,429.03 257.04,424.48 249.75,419.92 242.46,416.27 235.17,412.62 228.78,410.8 224.23,413.54 216.93,417.18 211.46,419.01 204.17,417.18 196.88,415.36 192.32,413.54 192.32,410.8 198.7,411.71 209.64,412.62 216.93,410.8 219.67,407.15 218.76,399.86 216.02,392.57 211.46,386.19 206.91,379.81 202.35,374.34 197.79,369.78 202.35,367.96 209.64,363.4 215.11,357.93 220.58,354.28 227.87,355.19" fill="#efe03f" stroke="#efe03f"/>
<polygon points="114.7,348.81 122.9,355.19 128.37,357.93 127.46,365.22 125.64,371.6 123.81,376.16 121.99,378.9 114.7,375.25 108.31,369.78 102.85,363.4 101.02,358.84 108.31,355.19" fill="#eec89a" stroke="#eec89a"/>
<polygon points="133.84,335.14 140.22,332.77 145.69,332.04 148.43,335.14 145.69,337.87 142.04,341.52 140.22,345.17 139.31,350.64 141.13,356.1 142.96,361.57 145.69,365.22 144.78,368.87 140.22,369.78 132.93,371.6 126.55,372.51 127.46,365.22 128.37,357.93 130.19,354.28 132.02,348.81 134.75,345.17 135.66,339.7" fill="#a985c9" stroke="#a985c9"/>
<polygon points="125.64,374.34 132.93,371.6 140.22,369.78 144.78,370.69 147.51,376.16 150.25,382.54 152.98,388.01 156.63,393.48 159.91,398.04 159.36,403.51 157.54,408.98 152.98,408.07 149.34,404.42 145.69,398.04 140.22,392.57 134.75,387.1 129.28,382.54 123.81,378.9" fill="#cc3c57" stroke="#cc3c57"/>
<polygon points="159.36,396.58 169.39,400.96 183.98,406.79 193.09,409.71 192.73,411.53 183.98,408.98 169.39,403.51 159.36,399.5" fill="#c24a68" stroke="#c24a68"/>
<polygon points="140.22,345.17 143.87,340.61 149.34,338.78 154.81,339.7 162.1,343.34 169.39,347.9 176.69,352.46 183.98,357.93 191.27,364.31 197.65,369.78 204.03,376.16 209.5,383.45 214.97,390.75 219.53,398.04 221.35,404.42 219.53,409.89 213.15,411.71 205.86,410.8 198.56,409.89 191.27,408.98 183.98,407.15 176.69,404.42 169.39,401.69 163.01,398.95 159.36,397.13 156.63,392.57 152.98,387.1 150.25,381.63 147.51,375.25 144.78,368.87 145.69,365.22 142.96,361.57 141.13,356.1 139.31,350.64" fill="#7ba3e1" stroke="#7ba3e1"/>
<polygon points="121.99,339.7 126.55,336.96 132.02,335.69 134.75,337.87 135.12,343.34 132.93,346.99 130.19,351.55 127.46,355.19 123.81,354.28 122.9,350.64 118.34,348.81 114.7,349.18 115.61,346.99 120.17,346.08 122.9,343.34" fill="#c0178b" stroke="#c0178b"/>
<polygon points="91.91,318.73 95.55,315.99 100.11,316.91 103.76,314.17 109.23,311.44 113.78,312.35 114.7,316.91 118.34,320.55 121.08,324.2 123.81,322.38 126.55,321.46 127.46,325.11 124.72,329.67 121.08,332.4 116.52,331.49 113.78,327.85 111.05,324.2 106.49,324.2 102.85,326.93 99.2,326.02 95.55,323.29 92.82,321.46" fill="#709fe1" stroke="#709fe1"/>
<ellipse cx="160.28" cy="378.9" rx="4.56" ry="3.46" fill="#c4394b"/>
<ellipse cx="169.39" cy="384.36" rx="2.92" ry="2.37" fill="#c4394b"/>
<ellipse cx="164.83" cy="381.63" rx="1.46" ry="1.09" fill="#c4394b"/>
</g>
<g font-family='"Liberation Sans",sans-serif' font-weight="bold" text-anchor="middle">
<text x="180.29" y="207.51" font-size="6.6" fill="#fff" textLength="32.5" lengthAdjust="spacingAndGlyphs">JINOTEGA</text>
<text x="260.14" y="205.33" font-size="5.8" fill="#5a4a1a" textLength="30" lengthAdjust="spacingAndGlyphs">R.A.C.C.N</text>
<text x="116.84" y="227.2" font-size="6.2" fill="#4a4a4a" textLength="52" lengthAdjust="spacingAndGlyphs">NUEVA SEGOVIA</text>
<text x="97.51" y="241.06" font-size="6.2" fill="#6a4a2a" textLength="25" lengthAdjust="spacingAndGlyphs">MADRIZ</text>
<text x="102.62" y="262.21" font-size="6.2" fill="#4a5a5a" textLength="22" lengthAdjust="spacingAndGlyphs">ESTELÍ</text>
<text x="59.23" y="288.83" font-size="6.2" fill="#2a4a6a" textLength="43" lengthAdjust="spacingAndGlyphs">CHINANDEGA</text>
<text x="154.4" y="284.45" font-size="6.4" fill="#fff" textLength="39" lengthAdjust="spacingAndGlyphs">MATAGALPA</text>
<text x="87.3" y="308.88" font-size="6.4" fill="#fff" textLength="17" lengthAdjust="spacingAndGlyphs">LEÓN</text>
<text x="167.16" y="310.34" font-size="6.4" fill="#fff" textLength="24" lengthAdjust="spacingAndGlyphs">BOACO</text>
<text x="257.23" y="312.17" font-size="5.8" fill="#5a3a3a" textLength="30" lengthAdjust="spacingAndGlyphs">R.A.C.C.S</text>
<text x="97.15" y="340.61" font-size="6.2" fill="#4a4a3a" textLength="34" lengthAdjust="spacingAndGlyphs">MANAGUA</text>
<text x="194.14" y="340.24" font-size="6.4" fill="#fff" textLength="39" lengthAdjust="spacingAndGlyphs">CHONTALES</text>
<text x="110.28" y="366.13" font-size="6.2" fill="#4a4a3a" textLength="27" lengthAdjust="spacingAndGlyphs">CARAZO</text>
<text x="135.44" y="382.54" font-size="6.4" fill="#fff" textLength="19" lengthAdjust="spacingAndGlyphs">RIVAS</text>
<text x="229.15" y="390.2" font-size="5.6" fill="#4a4a2a" textLength="9" lengthAdjust="spacingAndGlyphs">RIO</text>
<text x="229.88" y="396.03" font-size="5.6" fill="#4a4a2a" textLength="11.5" lengthAdjust="spacingAndGlyphs">SAN</text>
<text x="233.52" y="402.23" font-size="5.6" fill="#4a4a2a" textLength="15" lengthAdjust="spacingAndGlyphs">JUAN</text>
<text x="108.45" y="319.09" font-size="2.6" fill="#fff" textLength="11" lengthAdjust="spacingAndGlyphs">LAGO DE</text>
<text x="108.45" y="322.01" font-size="2.6" fill="#fff" textLength="12" lengthAdjust="spacingAndGlyphs">MANAGUA</text>
<text x="179.56" y="373.43" font-size="2.6" fill="#fff" textLength="11" lengthAdjust="spacingAndGlyphs">LAGO DE</text>
<text x="179.56" y="376.34" font-size="2.6" fill="#fff" textLength="14" lengthAdjust="spacingAndGlyphs">NICARAGUA</text>
<text x="129.24" y="341.7" font-size="2.4" fill="#fff" textLength="9" lengthAdjust="spacingAndGlyphs">MASAYA</text>
<text x="133.98" y="359.93" font-size="2.4" fill="#fff" textLength="10" lengthAdjust="spacingAndGlyphs">GRANADA</text>
</g></g>
<rect x="56.5" y="792" width="9.6" height="129.3" fill="url(#barg)" mask="none"/>
<rect x="55.5" y="791" width="11.6" height="3.5" fill="url(#fadew)"/>
<rect x="136.5" y="797" width="9.6" height="104.3" fill="url(#barg)" mask="none"/>
<rect x="135.5" y="796" width="11.6" height="3.5" fill="url(#fadew)"/>
<rect x="216.8" y="744" width="9.6" height="136.8" fill="url(#barg)" mask="none"/>
<rect x="215.8" y="743" width="11.6" height="3.5" fill="url(#fadew)"/>
<rect x="295.1" y="727.3" width="9.6" height="132.3" fill="url(#barg)" mask="none"/>
<rect x="294.1" y="726.3" width="11.6" height="3.5" fill="url(#fadew)"/>
<g filter="url(#stepsh)">
<polygon points="59,921.3 87.5,958.5 87.5,979.5 59,942.3" fill="#0c4959"/>
<polygon points="87.5,958.5 166,958.5 166,979.5 87.5,979.5" fill="url(#tealf)"/>
<polygon points="59,921.3 140.3,921.3 167.8,958.5 87.5,958.5" fill="#10a0e9"/>
<polygon points="138.5,901.3 167,938.7 167,958.7 138.5,921.3" fill="#093a46"/>
<polygon points="167,938.7 245.7,938.7 245.7,958.7 167,958.7" fill="url(#darkf)"/>
<polygon points="138.5,901.3 220.1,901.3 247.5,938.7 167,938.7" fill="#11727d"/>
<polygon points="218.4,880.8 247.5,918.9 247.5,938.7 218.4,900.6" fill="#b47010"/>
<polygon points="247.5,918.9 325.3,918.9 325.3,938.7 247.5,938.7" fill="url(#oraf)"/>
<polygon points="218.4,880.8 299.4,880.8 327.1,918.9 247.5,918.9" fill="#ee8e0a"/>
<polygon points="297.6,859.6 326.1,897.3 326.1,917.6 297.6,879.9" fill="#6c1010"/>
<polygon points="326.1,897.3 405.2,897.3 405.2,917.6 326.1,917.6" fill="url(#redf)"/>
<polygon points="297.6,859.6 377.3,859.6 405.2,897.3 326.1,897.3" fill="#fe0000"/>
</g>
<g transform="translate(479.1,595.2) scale(0.46)" filter="url(#mapsh)">
<g stroke-linejoin="round" stroke-width="2" clip-path="url(#mapclip)">
<polygon points="168.37,249.36 170.19,242.98 172.93,235.69 174.75,228.4 182.04,222.93 191.16,217.46 199.36,219.28 204.83,210.17 209.39,202.87 211.22,195.58 213.95,186.46 213.04,180.08 207.57,175.52 204.83,168.23 202.1,160.03 202.35,154.64 205.08,149.17 210.55,145.52 216.02,145.52 220.58,150.08 224.23,153.73 231.52,155.55 238.81,157.38 245.19,154.64 249.75,155.55 255.22,150.08 260.69,150.99 265.25,147.35 271.63,148.26 278.01,147.35 284.39,143.7 291.69,141.88 297.15,137.32 302.62,135.5 306.27,130.94 313.56,129.12 320.86,128.75 326.33,130.57 323.59,134.59 319.03,137.32 315.75,140.97 319.03,147.35 322.68,152.82 324.5,160.11 327.24,167.4 329.06,176.52 327.24,185.64 323.59,192.93 319.03,200.22 313.56,207.51 310.83,212.98 309.01,219.36 302.62,224.83 301.71,229.39 305.36,233.04 306.27,240.33 305.36,247.62 304.81,258.56 305.36,271.33 300.8,276.8 198.7,276.8 194.81,270.33 185.69,266.69 176.57,261.22" fill="#e2b530" stroke="#e2b530"/>
<polygon points="199.36,265.77 198.7,264.03 205.08,265.86 211.46,264.94 218.76,261.3 226.05,258.56 235.17,257.65 246.1,256.74 255.22,254.92 264.34,253.09 273.45,254.92 280.75,255.83 288.04,259.48 293.51,264.03 300.8,268.59 305.36,271.33 310.83,285 309.01,288.65 306.27,295.94 309.01,303.23 311.74,308.7 309.92,314.17 302.62,315.99 298.98,321.46 296.24,330.58 293.51,337.87 291.69,346.99 295.33,352.46 296.24,359.75 300.8,367.04 299.89,374.34 296.24,383.45 291.69,392.57 287.13,401.69 284.39,410.8 282.57,408.07 277.1,408.98 269.81,408.07 262.51,403.51 257.04,398.04 249.75,392.57 242.46,386.19 236.99,379.81 237.9,370.69 236.08,363.4 234.25,354.28 231.52,351.55 224.23,345.17 220.58,332.4 216.02,319.64 211.46,306.88 205.08,297.76 196.88,289.56 196.63,290.39 192.98,284.92 191.16,277.62 194.81,270.33" fill="#df907f" stroke="#df907f"/>
<polygon points="81.1,219.2 90.22,218.65 101.16,219.2 109.36,221.02 113.92,216.46 119.39,211.91 123.95,205.52 126.69,200.06 131.24,198.23 135.8,200.97 137.62,207.35 143.09,210.99 148.56,215.55 149.48,223.76 146.74,231.05 145.83,236.52 141.27,239.25 133.98,239.25 128.51,240.17 125.77,235.61 122.13,232.87 115.75,231.96 110.28,233.78 104.81,232.87 97.51,231.05 90.22,230.14 82.93,228.31 81.1,223.76" fill="#d9c1a8" stroke="#d9c1a8"/>
<polygon points="82.93,228.31 90.22,230.14 97.51,231.05 104.81,232.87 110.28,233.78 115.75,231.96 122.13,232.87 125.77,235.61 128.51,240.17 123.04,242.9 117.57,243.81 112.1,242.9 106.63,244.72 101.16,243.81 96.6,245.64 92.96,250.19 90.22,254.75 86.57,259.31 83.84,256.57 85.66,250.19 86.57,243.81 82.93,238.34 82.02,232.87" fill="#e19a68" stroke="#e19a68"/>
<polygon points="96.6,245.64 101.16,243.81 106.63,244.72 112.1,242.9 117.57,243.81 124.86,246.55 122.13,251.1 121.22,258.4 123.95,265.69 128.51,271.16 129.42,275.72 121.22,279.36 115.75,283.92 109.36,283.01 103.9,280.28 102.98,273.9 99.34,269.34 92.96,266.6 86.57,265.69 83.84,263.87 86.57,259.31 90.22,254.75 92.96,250.19" fill="#bad9d0" stroke="#bad9d0"/>
<polygon points="193.9,162.76 198.45,164.59 201.19,160.03 204.83,168.23 207.57,175.52 213.04,180.08 213.95,186.46 211.22,195.58 209.39,202.87 204.83,210.17 199.36,219.28 191.16,217.46 182.04,222.93 174.75,228.4 172.93,235.69 170.19,242.98 168.37,249.36 161.99,250.28 156.52,255.75 149.23,261.22 142.85,266.69 139.2,271.24 133.73,272.15 127.35,268.51 122.79,263.04 118.23,257.57 117.32,250.28 120.97,244.81 127.35,241.16 133.73,238.43 139.2,239.34 145.58,235.69 148.31,228.4 149.23,219.28 151.96,211.99 151.05,206.52 156.52,202.87 163.81,199.23 170.19,195.58 176.57,191.93 180.22,186.46 185.69,183.73 191.16,181.91 190.25,175.52 192.07,170.06" fill="#4b9b50" stroke="#4b9b50"/>
<polygon points="16.38,279.36 20.03,273.9 24.59,271.16 28.23,272.98 33.7,279.36 40.08,278.45 46.46,276.63 53.76,274.81 61.05,273.9 66.52,271.16 69.25,265.69 71.08,260.22 72.9,254.75 77.46,252.93 81.1,255.66 82.02,261.13 84.75,265.69 83.84,271.16 85.66,278.45 86.57,285.75 82.93,291.22 76.55,295.77 71.99,300.33 68.34,305.8 62.87,310.36 57.4,313.09 51.02,307.62 44.64,301.24 39.17,295.77 33.7,291.22 27.32,287.57 20.94,284.83 17.29,282.1" fill="#5fa9e9" stroke="#5fa9e9"/>
<polygon points="84.75,267.51 92.04,266.6 99.34,269.34 102.98,273.9 103.9,280.28 109.36,283.01 114.83,284.83 114.83,300.33 110.28,303.07 108.45,307.62 110.28,314.92 101.16,318.56 97.51,325.86 98.43,330.41 95.69,334.97 85.66,336.8 82.93,334.97 77.46,329.5 70.17,324.03 62.87,318.56 57.4,313.09 62.87,310.36 68.34,305.8 71.99,300.33 76.55,295.77 82.93,291.22 86.57,285.75 85.66,278.45 83.84,271.16" fill="#9cbc40" stroke="#9cbc40"/>
<polygon points="114.7,300.31 121.99,301.77 129.28,305.06 136.57,308.7 139.31,315.08 142.96,321.46 147.51,326.93 144.78,331.49 138.4,333.86 132.93,335.14 126.55,336.96 121.99,339.7 119.25,345.17 114.7,348.81 108.31,355.19 101.02,358.84 96.46,355.19 91.91,346.99 87.35,339.7 85.16,336.6 90.08,335.14 96.46,331.49 99.2,327.85 105.58,321.46 108.31,312.35 107.4,305.97 110.14,301.77" fill="#f3e13c" stroke="#f3e13c"/>
<polygon points="168.37,249.36 176.57,257.57 185.69,262.13 194.81,263.04 199.36,265.77 194.81,270.33 191.16,277.62 192.98,284.92 196.63,290.39 192.07,295.86 189.34,301.33 182.04,297.68 174.75,294.03 167.46,294.94 160.17,297.68 152.87,298.59 145.58,299.5 139.2,303.15 135.55,307.71 129.17,304.06 121.88,301.33 116.41,300.41 115.5,292.21 115.5,284.01 120.06,278.54 124.61,273.98 127.35,268.51 133.73,272.15 139.2,271.24 142.85,266.69 149.23,261.22 156.52,255.75 161.99,250.28" fill="#a98dd2" stroke="#a98dd2"/>
<polygon points="136.57,308.7 142.04,304.14 149.34,300.5 158.45,298.67 167.57,295.03 176.69,295.94 183.98,297.76 191.27,298.67 194.92,294.12 198.56,289.56 204.03,295.94 206.77,301.41 202.21,306.88 196.74,312.35 191.27,315.99 183.98,318.73 176.69,319.64 169.39,318.73 162.1,320.55 159.36,326.93 157.54,333.31 154.81,337.87 150.25,335.14 147.51,328.76 142.96,321.46 139.31,315.08" fill="#d57a2d" stroke="#d57a2d"/>
<polygon points="206.77,301.41 211.33,310.52 215.88,321.46 220.44,332.4 224.09,345.17 234.25,354.28 227.87,355.19 220.58,354.28 215.11,357.93 209.64,363.4 202.35,367.96 197.79,369.78 191.27,363.4 183.98,357.02 176.69,350.64 169.39,346.08 162.1,341.52 154.81,337.87 157.54,333.31 159.36,326.93 162.1,320.55 169.39,318.73 176.69,319.64 183.98,318.73 191.27,315.99 196.74,312.35 202.21,306.88" fill="#e89530" stroke="#e89530"/>
<polygon points="234.25,354.28 236.08,363.4 237.9,370.69 236.99,379.81 242.46,386.19 249.75,392.57 257.04,398.04 262.51,403.51 269.81,408.07 277.1,408.98 282.57,408.07 284.39,410.8 291.69,418.09 298.07,424.48 299.89,429.03 291.69,432.68 284.39,435.41 278.92,434.5 274.36,430.86 269.81,431.77 262.51,429.03 257.04,424.48 249.75,419.92 242.46,416.27 235.17,412.62 228.78,410.8 224.23,413.54 216.93,417.18 211.46,419.01 204.17,417.18 196.88,415.36 192.32,413.54 192.32,410.8 198.7,411.71 209.64,412.62 216.93,410.8 219.67,407.15 218.76,399.86 216.02,392.57 211.46,386.19 206.91,379.81 202.35,374.34 197.79,369.78 202.35,367.96 209.64,363.4 215.11,357.93 220.58,354.28 227.87,355.19" fill="#efe03f" stroke="#efe03f"/>
<polygon points="114.7,348.81 122.9,355.19 128.37,357.93 127.46,365.22 125.64,371.6 123.81,376.16 121.99,378.9 114.7,375.25 108.31,369.78 102.85,363.4 101.02,358.84 108.31,355.19" fill="#eec89a" stroke="#eec89a"/>
<polygon points="133.84,335.14 140.22,332.77 145.69,332.04 148.43,335.14 145.69,337.87 142.04,341.52 140.22,345.17 139.31,350.64 141.13,356.1 142.96,361.57 145.69,365.22 144.78,368.87 140.22,369.78 132.93,371.6 126.55,372.51 127.46,365.22 128.37,357.93 130.19,354.28 132.02,348.81 134.75,345.17 135.66,339.7" fill="#a985c9" stroke="#a985c9"/>
<polygon points="125.64,374.34 132.93,371.6 140.22,369.78 144.78,370.69 147.51,376.16 150.25,382.54 152.98,388.01 156.63,393.48 159.91,398.04 159.36,403.51 157.54,408.98 152.98,408.07 149.34,404.42 145.69,398.04 140.22,392.57 134.75,387.1 129.28,382.54 123.81,378.9" fill="#cc3c57" stroke="#cc3c57"/>
<polygon points="159.36,396.58 169.39,400.96 183.98,406.79 193.09,409.71 192.73,411.53 183.98,408.98 169.39,403.51 159.36,399.5" fill="#c24a68" stroke="#c24a68"/>
<polygon points="140.22,345.17 143.87,340.61 149.34,338.78 154.81,339.7 162.1,343.34 169.39,347.9 176.69,352.46 183.98,357.93 191.27,364.31 197.65,369.78 204.03,376.16 209.5,383.45 214.97,390.75 219.53,398.04 221.35,404.42 219.53,409.89 213.15,411.71 205.86,410.8 198.56,409.89 191.27,408.98 183.98,407.15 176.69,404.42 169.39,401.69 163.01,398.95 159.36,397.13 156.63,392.57 152.98,387.1 150.25,381.63 147.51,375.25 144.78,368.87 145.69,365.22 142.96,361.57 141.13,356.1 139.31,350.64" fill="#7ba3e1" stroke="#7ba3e1"/>
<polygon points="121.99,339.7 126.55,336.96 132.02,335.69 134.75,337.87 135.12,343.34 132.93,346.99 130.19,351.55 127.46,355.19 123.81,354.28 122.9,350.64 118.34,348.81 114.7,349.18 115.61,346.99 120.17,346.08 122.9,343.34" fill="#c0178b" stroke="#c0178b"/>
<polygon points="91.91,318.73 95.55,315.99 100.11,316.91 103.76,314.17 109.23,311.44 113.78,312.35 114.7,316.91 118.34,320.55 121.08,324.2 123.81,322.38 126.55,321.46 127.46,325.11 124.72,329.67 121.08,332.4 116.52,331.49 113.78,327.85 111.05,324.2 106.49,324.2 102.85,326.93 99.2,326.02 95.55,323.29 92.82,321.46" fill="#709fe1" stroke="#709fe1"/>
<ellipse cx="160.28" cy="378.9" rx="4.56" ry="3.46" fill="#c4394b"/>
<ellipse cx="169.39" cy="384.36" rx="2.92" ry="2.37" fill="#c4394b"/>
<ellipse cx="164.83" cy="381.63" rx="1.46" ry="1.09" fill="#c4394b"/>
</g>
<g font-family='"Liberation Sans",sans-serif' font-weight="bold" text-anchor="middle">
<text x="180.29" y="207.51" font-size="6.6" fill="#fff" textLength="32.5" lengthAdjust="spacingAndGlyphs">JINOTEGA</text>
<text x="260.14" y="205.33" font-size="5.8" fill="#5a4a1a" textLength="30" lengthAdjust="spacingAndGlyphs">R.A.C.C.N</text>
<text x="116.84" y="227.2" font-size="6.2" fill="#4a4a4a" textLength="52" lengthAdjust="spacingAndGlyphs">NUEVA SEGOVIA</text>
<text x="97.51" y="241.06" font-size="6.2" fill="#6a4a2a" textLength="25" lengthAdjust="spacingAndGlyphs">MADRIZ</text>
<text x="102.62" y="262.21" font-size="6.2" fill="#4a5a5a" textLength="22" lengthAdjust="spacingAndGlyphs">ESTELÍ</text>
<text x="59.23" y="288.83" font-size="6.2" fill="#2a4a6a" textLength="43" lengthAdjust="spacingAndGlyphs">CHINANDEGA</text>
<text x="154.4" y="284.45" font-size="6.4" fill="#fff" textLength="39" lengthAdjust="spacingAndGlyphs">MATAGALPA</text>
<text x="87.3" y="308.88" font-size="6.4" fill="#fff" textLength="17" lengthAdjust="spacingAndGlyphs">LEÓN</text>
<text x="167.16" y="310.34" font-size="6.4" fill="#fff" textLength="24" lengthAdjust="spacingAndGlyphs">BOACO</text>
<text x="257.23" y="312.17" font-size="5.8" fill="#5a3a3a" textLength="30" lengthAdjust="spacingAndGlyphs">R.A.C.C.S</text>
<text x="97.15" y="340.61" font-size="6.2" fill="#4a4a3a" textLength="34" lengthAdjust="spacingAndGlyphs">MANAGUA</text>
<text x="194.14" y="340.24" font-size="6.4" fill="#fff" textLength="39" lengthAdjust="spacingAndGlyphs">CHONTALES</text>
<text x="110.28" y="366.13" font-size="6.2" fill="#4a4a3a" textLength="27" lengthAdjust="spacingAndGlyphs">CARAZO</text>
<text x="135.44" y="382.54" font-size="6.4" fill="#fff" textLength="19" lengthAdjust="spacingAndGlyphs">RIVAS</text>
<text x="229.15" y="390.2" font-size="5.6" fill="#4a4a2a" textLength="9" lengthAdjust="spacingAndGlyphs">RIO</text>
<text x="229.88" y="396.03" font-size="5.6" fill="#4a4a2a" textLength="11.5" lengthAdjust="spacingAndGlyphs">SAN</text>
<text x="233.52" y="402.23" font-size="5.6" fill="#4a4a2a" textLength="15" lengthAdjust="spacingAndGlyphs">JUAN</text>
<text x="108.45" y="319.09" font-size="2.6" fill="#fff" textLength="11" lengthAdjust="spacingAndGlyphs">LAGO DE</text>
<text x="108.45" y="322.01" font-size="2.6" fill="#fff" textLength="12" lengthAdjust="spacingAndGlyphs">MANAGUA</text>
<text x="179.56" y="373.43" font-size="2.6" fill="#fff" textLength="11" lengthAdjust="spacingAndGlyphs">LAGO DE</text>
<text x="179.56" y="376.34" font-size="2.6" fill="#fff" textLength="14" lengthAdjust="spacingAndGlyphs">NICARAGUA</text>
<text x="129.24" y="341.7" font-size="2.4" fill="#fff" textLength="9" lengthAdjust="spacingAndGlyphs">MASAYA</text>
<text x="133.98" y="359.93" font-size="2.4" fill="#fff" textLength="10" lengthAdjust="spacingAndGlyphs">GRANADA</text>
</g></g>
<rect x="524.9" y="792" width="9.6" height="129.3" fill="url(#barg)" mask="none"/>
<rect x="523.9" y="791" width="11.6" height="3.5" fill="url(#fadew)"/>
<rect x="604.9" y="797" width="9.6" height="104.3" fill="url(#barg)" mask="none"/>
<rect x="603.9" y="796" width="11.6" height="3.5" fill="url(#fadew)"/>
<rect x="685.2" y="744" width="9.6" height="136.8" fill="url(#barg)" mask="none"/>
<rect x="684.2" y="743" width="11.6" height="3.5" fill="url(#fadew)"/>
<rect x="763.5" y="727.3" width="9.6" height="132.3" fill="url(#barg)" mask="none"/>
<rect x="762.5" y="726.3" width="11.6" height="3.5" fill="url(#fadew)"/>
<g filter="url(#stepsh)">
<polygon points="527.4,921.3 555.9,958.5 555.9,979.5 527.4,942.3" fill="#0c4959"/>
<polygon points="555.9,958.5 634.4,958.5 634.4,979.5 555.9,979.5" fill="url(#tealf)"/>
<polygon points="527.4,921.3 608.7,921.3 636.2,958.5 555.9,958.5" fill="#10a0e9"/>
<polygon points="606.9,901.3 635.4,938.7 635.4,958.7 606.9,921.3" fill="#093a46"/>
<polygon points="635.4,938.7 714.1,938.7 714.1,958.7 635.4,958.7" fill="url(#darkf)"/>
<polygon points="606.9,901.3 688.5,901.3 715.9,938.7 635.4,938.7" fill="#11727d"/>
<polygon points="686.8,880.8 715.9,918.9 715.9,938.7 686.8,900.6" fill="#b47010"/>
<polygon points="715.9,918.9 793.7,918.9 793.7,938.7 715.9,938.7" fill="url(#oraf)"/>
<polygon points="686.8,880.8 767.8,880.8 795.5,918.9 715.9,918.9" fill="#ee8e0a"/>
<polygon points="766,859.6 794.5,897.3 794.5,917.6 766,879.9" fill="#6c1010"/>
<polygon points="794.5,897.3 873.6,897.3 873.6,917.6 794.5,917.6" fill="url(#redf)"/>
<polygon points="766,859.6 845.7,859.6 873.6,897.3 794.5,897.3" fill="#fe0000"/>
</g>
<rect x="453" y="606" width="8.5" height="381" fill="url(#divh)"/>
<rect x="452" y="605" width="11" height="383" fill="url(#divv)"/>
<text id="titlea" class="t" font-family='"DejaVu Sans Condensed","Liberation Sans",sans-serif' font-weight="bold" font-size="44" fill="#0d4352" x="162.4" y="54.8" textLength="612.18" lengthAdjust="spacingAndGlyphs">A Nicaragua le iría mejor…</text>
<text id="titleb" class="t" font-family='"DejaVu Sans Condensed","Liberation Sans",sans-serif' font-weight="bold" font-size="44" fill="#0d4352" x="162.4" y="575" textLength="612.18" lengthAdjust="spacingAndGlyphs">A Nicaragua le iría mejor…</text>
<text id="n1" class="t" font-family='"Liberation Sans",sans-serif' font-weight="bold" font-size="45.5" fill="#1a9ad7" stroke="#1a9ad7" stroke-width="0.5" x="347.11" y="299.6" textLength="80.07" lengthAdjust="spacingAndGlyphs" filter="url(#s1)">11.8</text>
<text id="p1" class="t" font-family='"Liberation Sans",sans-serif' font-weight="bold" font-size="16.5" fill="#1a9ad7" stroke="#1a9ad7" stroke-width="0.5" x="426.6" y="292.2" textLength="13.73" lengthAdjust="spacingAndGlyphs" filter="url(#s1)">%</text>
<text id="l1" class="t" font-family='"DejaVu Sans Condensed","Liberation Sans",sans-serif' font-weight="bold" font-size="16.6" fill="#000" stroke="#000" stroke-width="0.25" x="357.95" y="322.4" textLength="71.33" lengthAdjust="spacingAndGlyphs" filter="url(#s1)">No sabe</text>
<text id="n2" class="t" font-family='"Liberation Sans",sans-serif' font-weight="bold" font-size="45" fill="#1c5663" stroke="#1c5663" stroke-width="0.5" x="488.83" y="242.3" textLength="55.46" lengthAdjust="spacingAndGlyphs" filter="url(#s1)">7.1</text>
<text id="p2" class="t" font-family='"Liberation Sans",sans-serif' font-weight="bold" font-size="16.5" fill="#1c5663" stroke="#1c5663" stroke-width="0.5" x="547.6" y="235.2" textLength="14.57" lengthAdjust="spacingAndGlyphs" filter="url(#s1)">%</text>
<text id="l2a" class="t" font-family='"DejaVu Sans Condensed","Liberation Sans",sans-serif' font-weight="bold" font-size="15.6" fill="#000" stroke="#000" stroke-width="0.25" x="463.24" y="275" textLength="125.18" lengthAdjust="spacingAndGlyphs" filter="url(#s1)">Con un gobierno</text>
<text id="l2b" class="t" font-family='"DejaVu Sans Condensed","Liberation Sans",sans-serif' font-weight="bold" font-size="15.6" fill="#000" stroke="#000" stroke-width="0.25" x="477.33" y="292.1" textLength="98.81" lengthAdjust="spacingAndGlyphs" filter="url(#s1)">de Oposición</text>
<text id="n3" class="t" font-family='"Liberation Sans",sans-serif' font-weight="bold" font-size="45" fill="#b4652a" stroke="#b4652a" stroke-width="0.5" x="611.63" y="203.7" textLength="77.99" lengthAdjust="spacingAndGlyphs" filter="url(#s1)">12.1</text>
<text id="p3" class="t" font-family='"Liberation Sans",sans-serif' font-weight="bold" font-size="16.5" fill="#b4652a" stroke="#b4652a" stroke-width="0.5" x="692.8" y="197.2" textLength="14.99" lengthAdjust="spacingAndGlyphs" filter="url(#s1)">%</text>
<text id="l3" class="t" font-family='"DejaVu Sans Condensed","Liberation Sans",sans-serif' font-weight="bold" font-size="17" fill="#000" stroke="#000" stroke-width="0.25" x="599.25" y="230.5" textLength="115.33" lengthAdjust="spacingAndGlyphs" filter="url(#s1)">Con Ninguno</text>
<text id="n4" class="t" font-family='"Liberation Sans",sans-serif' font-weight="bold" font-size="49" fill="#b01016" stroke="#b01016" stroke-width="0.5" x="744.13" y="163.6" textLength="89.09" lengthAdjust="spacingAndGlyphs" filter="url(#s1)">69.0</text>
<text id="p4" class="t" font-family='"Liberation Sans",sans-serif' font-weight="bold" font-size="17.5" fill="#b01016" stroke="#b01016" stroke-width="0.5" x="833.6" y="154.7" textLength="17.22" lengthAdjust="spacingAndGlyphs" filter="url(#s1)">%</text>
<text id="l4a" class="t" font-family='"DejaVu Sans Condensed","Liberation Sans",sans-serif' font-weight="bold" font-size="17.2" fill="#000" stroke="#000" stroke-width="0.25" x="721.98" y="193.9" textLength="146.71" lengthAdjust="spacingAndGlyphs" filter="url(#s1)">Con un gobierno</text>
<text id="l4b" class="t" font-family='"DejaVu Sans Condensed","Liberation Sans",sans-serif' font-weight="bold" font-size="17.2" fill="#000" stroke="#000" stroke-width="0.25" x="756.18" y="214.3" textLength="78.6" lengthAdjust="spacingAndGlyphs" filter="url(#s1)">del FSLN</text>
<text id="foot1" class="t" font-family='"DejaVu Sans Condensed","Liberation Sans",sans-serif' font-weight="bold" font-size="12.4" fill="#111" x="245.58" y="496.5" textLength="479.87" lengthAdjust="spacingAndGlyphs">M&amp;R Consultores; Nicaragua Rumbo a Noviembre 2021 - Boaco - Chontales</text>
<text id="pg1" class="t" font-family='"DejaVu Sans Condensed","Liberation Sans",sans-serif' font-weight="bold" font-size="13.5" fill="#111" x="884.47" y="499.2" textLength="17.47" lengthAdjust="spacingAndGlyphs">20</text>
<text id="h1" class="t" font-family='"DejaVu Sans Condensed","Liberation Sans",sans-serif' font-weight="bold" font-size="22" fill="#b2101a" x="93.43" y="634" textLength="278.92" lengthAdjust="spacingAndGlyphs">Departamento de Boaco</text>
<text id="h2" class="t" font-family='"DejaVu Sans Condensed","Liberation Sans",sans-serif' font-weight="bold" font-size="22" fill="#b2101a" x="541.45" y="631.6" textLength="322.24" lengthAdjust="spacingAndGlyphs">Departamento de Chontales</text>
<text id="Ln0" class="t" font-family='"Liberation Sans",sans-serif' font-weight="bold" font-size="28" fill="#2f9edb" stroke="#2f9edb" stroke-width="0.5" x="65.54" y="880.3" textLength="52" lengthAdjust="spacingAndGlyphs" filter="url(#s2)">11.5</text>
<text id="Lp0" class="t" font-family='"Liberation Sans",sans-serif' font-weight="bold" font-size="11" fill="#2f9edb" stroke="#2f9edb" stroke-width="0.5" x="116.6" y="877.5" textLength="9.78" lengthAdjust="spacingAndGlyphs" filter="url(#s2)">%</text>
<text id="Ln1" class="t" font-family='"Liberation Sans",sans-serif' font-weight="bold" font-size="38" fill="#1c5663" stroke="#1c5663" stroke-width="0.5" x="150.41" y="839.1" textLength="52.51" lengthAdjust="spacingAndGlyphs" filter="url(#s2)">7.8</text>
<text id="Lp1" class="t" font-family='"Liberation Sans",sans-serif' font-weight="bold" font-size="14.5" fill="#1c5663" stroke="#1c5663" stroke-width="0.5" x="202.4" y="833.4" textLength="13.66" lengthAdjust="spacingAndGlyphs" filter="url(#s2)">%</text>
<text id="Ln2" class="t" font-family='"Liberation Sans",sans-serif' font-weight="bold" font-size="35" fill="#b4652a" stroke="#b4652a" stroke-width="0.5" x="227.17" y="807.7" textLength="62.47" lengthAdjust="spacingAndGlyphs" filter="url(#s2)">12.7</text>
<text id="Lp2" class="t" font-family='"Liberation Sans",sans-serif' font-weight="bold" font-size="13.5" fill="#b4652a" stroke="#b4652a" stroke-width="0.5" x="288.8" y="802.1" textLength="11.72" lengthAdjust="spacingAndGlyphs" filter="url(#s2)">%</text>
<text id="Ln3" class="t" font-family='"Liberation Sans",sans-serif' font-weight="bold" font-size="37" fill="#b01016" stroke="#b01016" stroke-width="0.5" x="310.55" y="783.5" textLength="68.52" lengthAdjust="spacingAndGlyphs" filter="url(#s2)">68.1</text>
<text id="Lp3" class="t" font-family='"Liberation Sans",sans-serif' font-weight="bold" font-size="15" fill="#b01016" stroke="#b01016" stroke-width="0.5" x="382.1" y="777.8" textLength="13.24" lengthAdjust="spacingAndGlyphs" filter="url(#s2)">%</text>
<text id="La" class="t" font-family='"DejaVu Sans Condensed","Liberation Sans",sans-serif' font-weight="bold" font-size="14.2" fill="#000" stroke="#000" stroke-width="0.25" x="68.43" y="910.5" textLength="61.73" lengthAdjust="spacingAndGlyphs" filter="url(#s2)">No sabe</text>
<text id="Lb1" class="t" font-family='"DejaVu Sans Condensed","Liberation Sans",sans-serif' font-weight="bold" font-size="12" fill="#000" stroke="#000" stroke-width="0.25" x="157.34" y="859.2" textLength="44.7" lengthAdjust="spacingAndGlyphs" filter="url(#s2)">Con un</text>
<text id="Lb2" class="t" font-family='"DejaVu Sans Condensed","Liberation Sans",sans-serif' font-weight="bold" font-size="12" fill="#000" stroke="#000" stroke-width="0.25" x="142.06" y="874.5" textLength="75.82" lengthAdjust="spacingAndGlyphs" filter="url(#s2)">gobierno de</text>
<text id="Lb3" class="t" font-family='"DejaVu Sans Condensed","Liberation Sans",sans-serif' font-weight="bold" font-size="12" fill="#000" stroke="#000" stroke-width="0.25" x="148.34" y="889" textLength="63.05" lengthAdjust="spacingAndGlyphs" filter="url(#s2)">Oposición</text>
<text id="Lc1" class="t" font-family='"DejaVu Sans Condensed","Liberation Sans",sans-serif' font-weight="bold" font-size="13.3" fill="#000" stroke="#000" stroke-width="0.25" x="250.3" y="843.8" textLength="28.08" lengthAdjust="spacingAndGlyphs" filter="url(#s2)">Con</text>
<text id="Lc2" class="t" font-family='"DejaVu Sans Condensed","Liberation Sans",sans-serif' font-weight="bold" font-size="13.3" fill="#000" stroke="#000" stroke-width="0.25" x="234.55" y="859.6" textLength="59.53" lengthAdjust="spacingAndGlyphs" filter="url(#s2)">Ninguno</text>
<text id="Ld1" class="t" font-family='"DejaVu Sans Condensed","Liberation Sans",sans-serif' font-weight="bold" font-size="13.3" fill="#000" stroke="#000" stroke-width="0.25" x="325.53" y="812.9" textLength="49.83" lengthAdjust="spacingAndGlyphs" filter="url(#s2)">Con un</text>
<text id="Ld2" class="t" font-family='"DejaVu Sans Condensed","Liberation Sans",sans-serif' font-weight="bold" font-size="13.3" fill="#000" stroke="#000" stroke-width="0.25" x="306.56" y="828.9" textLength="88.63" lengthAdjust="spacingAndGlyphs" filter="url(#s2)">gobierno del</text>
<text id="Ld3" class="t" font-family='"DejaVu Sans Condensed","Liberation Sans",sans-serif' font-weight="bold" font-size="13.3" fill="#000" stroke="#000" stroke-width="0.25" x="332.52" y="846.3" textLength="37.13" lengthAdjust="spacingAndGlyphs" filter="url(#s2)">FSLN</text>
<text id="Rn0" class="t" font-family='"Liberation Sans",sans-serif' font-weight="bold" font-size="28" fill="#2f9edb" stroke="#2f9edb" stroke-width="0.5" x="533.41" y="879.8" textLength="54.29" lengthAdjust="spacingAndGlyphs" filter="url(#s2)">12.2</text>
<text id="Rp0" class="t" font-family='"Liberation Sans",sans-serif' font-weight="bold" font-size="11" fill="#2f9edb" stroke="#2f9edb" stroke-width="0.5" x="586.4" y="877" textLength="9.46" lengthAdjust="spacingAndGlyphs" filter="url(#s2)">%</text>
<text id="Rn1" class="t" font-family='"Liberation Sans",sans-serif' font-weight="bold" font-size="38" fill="#1c5663" stroke="#1c5663" stroke-width="0.5" x="620.81" y="838.6" textLength="52.09" lengthAdjust="spacingAndGlyphs" filter="url(#s2)">6.3</text>
<text id="Rp1" class="t" font-family='"Liberation Sans",sans-serif' font-weight="bold" font-size="14.5" fill="#1c5663" stroke="#1c5663" stroke-width="0.5" x="671.3" y="833.9" textLength="13.66" lengthAdjust="spacingAndGlyphs" filter="url(#s2)">%</text>
<text id="Rn2" class="t" font-family='"Liberation Sans",sans-serif' font-weight="bold" font-size="35" fill="#b4652a" stroke="#b4652a" stroke-width="0.5" x="697.47" y="807.9" textLength="60.63" lengthAdjust="spacingAndGlyphs" filter="url(#s2)">11.5</text>
<text id="Rp2" class="t" font-family='"Liberation Sans",sans-serif' font-weight="bold" font-size="13.5" fill="#b4652a" stroke="#b4652a" stroke-width="0.5" x="757.2" y="801.5" textLength="11.01" lengthAdjust="spacingAndGlyphs" filter="url(#s2)">%</text>
<text id="Rn3" class="t" font-family='"Liberation Sans",sans-serif' font-weight="bold" font-size="37" fill="#b01016" stroke="#b01016" stroke-width="0.5" x="778.09" y="783.6" textLength="72.22" lengthAdjust="spacingAndGlyphs" filter="url(#s2)">70.0</text>
<text id="Rp3" class="t" font-family='"Liberation Sans",sans-serif' font-weight="bold" font-size="15" fill="#b01016" stroke="#b01016" stroke-width="0.5" x="850.6" y="778.8" textLength="13.14" lengthAdjust="spacingAndGlyphs" filter="url(#s2)">%</text>
<text id="Ra" class="t" font-family='"DejaVu Sans Condensed","Liberation Sans",sans-serif' font-weight="bold" font-size="14.2" fill="#000" stroke="#000" stroke-width="0.25" x="536.83" y="910.5" textLength="61.73" lengthAdjust="spacingAndGlyphs" filter="url(#s2)">No sabe</text>
<text id="Rb1" class="t" font-family='"DejaVu Sans Condensed","Liberation Sans",sans-serif' font-weight="bold" font-size="12" fill="#000" stroke="#000" stroke-width="0.25" x="625.74" y="859.2" textLength="44.7" lengthAdjust="spacingAndGlyphs" filter="url(#s2)">Con un</text>
<text id="Rb2" class="t" font-family='"DejaVu Sans Condensed","Liberation Sans",sans-serif' font-weight="bold" font-size="12" fill="#000" stroke="#000" stroke-width="0.25" x="610.46" y="874.5" textLength="75.82" lengthAdjust="spacingAndGlyphs" filter="url(#s2)">gobierno de</text>
<text id="Rb3" class="t" font-family='"DejaVu Sans Condensed","Liberation Sans",sans-serif' font-weight="bold" font-size="12" fill="#000" stroke="#000" stroke-width="0.25" x="616.74" y="889" textLength="63.05" lengthAdjust="spacingAndGlyphs" filter="url(#s2)">Oposición</text>
<text id="Rc1" class="t" font-family='"DejaVu Sans Condensed","Liberation Sans",sans-serif' font-weight="bold" font-size="13.3" fill="#000" stroke="#000" stroke-width="0.25" x="718.7" y="843.8" textLength="28.08" lengthAdjust="spacingAndGlyphs" filter="url(#s2)">Con</text>
<text id="Rc2" class="t" font-family='"DejaVu Sans Condensed","Liberation Sans",sans-serif' font-weight="bold" font-size="13.3" fill="#000" stroke="#000" stroke-width="0.25" x="702.95" y="859.6" textLength="59.53" lengthAdjust="spacingAndGlyphs" filter="url(#s2)">Ninguno</text>
<text id="Rd1" class="t" font-family='"DejaVu Sans Condensed","Liberation Sans",sans-serif' font-weight="bold" font-size="13.3" fill="#000" stroke="#000" stroke-width="0.25" x="793.93" y="812.9" textLength="49.83" lengthAdjust="spacingAndGlyphs" filter="url(#s2)">Con un</text>
<text id="Rd2" class="t" font-family='"DejaVu Sans Condensed","Liberation Sans",sans-serif' font-weight="bold" font-size="13.3" fill="#000" stroke="#000" stroke-width="0.25" x="774.96" y="828.9" textLength="88.63" lengthAdjust="spacingAndGlyphs" filter="url(#s2)">gobierno del</text>
<text id="Rd3" class="t" font-family='"DejaVu Sans Condensed","Liberation Sans",sans-serif' font-weight="bold" font-size="13.3" fill="#000" stroke="#000" stroke-width="0.25" x="800.92" y="846.3" textLength="37.13" lengthAdjust="spacingAndGlyphs" filter="url(#s2)">FSLN</text>
<text id="foot2" class="t" font-family='"DejaVu Sans Condensed","Liberation Sans",sans-serif' font-weight="bold" font-size="12.4" fill="#111" x="245.58" y="1014.9" textLength="479.87" lengthAdjust="spacingAndGlyphs">M&amp;R Consultores; Nicaragua Rumbo a Noviembre 2021 - Boaco - Chontales</text>
<text id="pg2" class="t" font-family='"DejaVu Sans Condensed","Liberation Sans",sans-serif' font-weight="bold" font-size="13.5" fill="#111" x="884.47" y="1017.6" textLength="17.47" lengthAdjust="spacingAndGlyphs">21</text>
</svg></body></html>
